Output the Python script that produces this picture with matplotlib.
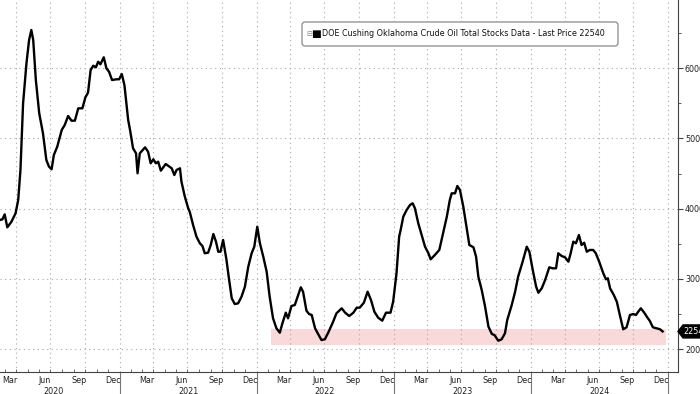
import matplotlib
matplotlib.use("Agg")
import matplotlib.pyplot as plt
import matplotlib.dates as mdates
import matplotlib.transforms as mtransforms
from matplotlib.patches import FancyBboxPatch, Polygon
from matplotlib.ticker import FixedLocator, NullFormatter
import pandas as pd

# ---------------- data (weekly Cushing stocks, barrels in thousands) ----------------
dates_2020 = ["02-17", "02-24", "03-01", "03-08", "03-19", "03-30", "04-06", "04-12", "04-19",
              "04-28", "05-05", "05-11", "05-16", "05-23", "06-01", "06-11", "06-20", "06-27",
              "07-04", "07-10", "07-19", "07-31", "08-08", "08-17", "08-26", "09-04", "09-13",
              "09-24", "10-02", "10-09", "10-16", "10-23", "10-30", "11-05", "11-11", "11-20",
              "11-27", "12-04", "12-12", "12-24", "12-31"]
stocks_2020 = [38390, 38490, 39200, 37350, 38150, 39350, 41240, 45510, 54990,
               60680, 64000, 65420, 64000, 58310, 53570, 50730, 46930, 45980,
               45610, 47640, 48820, 51200, 51910, 53190, 52520, 52520, 54280,
               54280, 55850, 56500, 59730, 60340, 60110, 60910, 60540, 61540,
               59970, 59490, 58310, 58410, 58410]

dates_2021 = ["01-07", "01-14", "01-24", "01-29", "02-06", "02-14", "02-18", "02-24", "03-10",
              "03-18", "03-25", "04-01", "04-08", "04-14", "04-21", "05-04", "05-20", "05-27",
              "06-02", "06-11", "06-15", "06-24", "07-03", "07-07", "07-16", "07-25", "08-03",
              "08-10", "08-16", "08-25", "09-01", "09-08", "09-15", "09-21", "09-27", "10-04",
              "10-13", "10-20", "10-27", "11-04", "11-13", "11-22", "12-01", "12-10", "12-19",
              "12-26"]
stocks_2021 = [59160, 57600, 52620, 51200, 48590, 47880, 45040, 47880, 48730,
               48110, 46460, 47030, 46460, 46690, 45410, 46360, 45750, 44790,
               45510, 45750, 43840, 41710, 40060, 39570, 37680, 36020, 35080,
               34690, 33660, 33740, 34840, 36400, 35310, 33880, 33880, 35550,
               32700, 29860, 27250, 26440, 26540, 27480, 28900, 31750, 33660,
               34590]

dates_2022 = ["01-03", "01-10", "01-19", "01-28", "02-05", "02-14", "02-23", "03-04", "03-11",
              "03-20", "03-26", "04-04", "04-13", "04-22", "04-29", "05-05", "05-14", "05-21",
              "05-28", "06-06", "06-14", "06-23", "07-02", "07-11", "07-23", "08-02", "08-16",
              "08-25", "09-05", "09-16", "09-25", "10-03", "10-14", "10-24", "11-02", "11-11",
              "11-21", "12-02", "12-12", "12-24", "12-31"]
stocks_2022 = [37440, 35080, 33170, 31040, 27480, 24410, 22990, 22360, 23700,
               25210, 24410, 26160, 26300, 27720, 28820, 28190, 25490, 25020,
               24880, 22990, 22180, 21320, 21420, 22360, 23780, 25120, 25830,
               25210, 24740, 25210, 25920, 25920, 26630, 28190, 27010, 25350,
               24500, 24070, 25210, 25210, 26770]

dates_2023 = ["01-09", "01-16", "01-20", "01-27", "02-05", "02-14", "02-21", "02-27", "03-08",
              "03-17", "03-26", "04-04", "04-10", "04-21", "05-03", "05-13", "05-23", "05-31",
              "06-05", "06-14", "06-20", "06-27", "07-06", "07-15", "07-22", "08-02", "08-09",
              "08-15", "08-24", "09-02", "09-11", "09-20", "09-27", "10-07", "10-16", "10-25",
              "10-31", "11-12", "11-21", "11-29", "12-11", "12-22", "12-29"]
stocks_2023 = [30810, 36020, 36970, 38860, 39820, 40530, 40770, 40060, 37920,
               36260, 34590, 33660, 32800, 33410, 34130, 36500, 38860, 41240,
               42190, 42190, 43230, 42660, 40280, 37210, 34840, 34510, 33170,
               30330, 28440, 26060, 23210, 22180, 22030, 21220, 21420, 22280,
               24170, 26300, 28190, 30330, 32460, 34590, 33880]

dates_2024 = ["01-07", "01-16", "01-22", "01-31", "02-09", "02-20", "02-29", "03-09", "03-15",
              "03-24", "04-02", "04-11", "04-17", "04-24", "05-01", "05-09", "05-16", "05-23",
              "05-30", "06-07", "06-16", "06-23", "07-02", "07-13", "07-20", "07-25", "07-31",
              "08-10", "08-18", "08-26", "09-04", "09-13", "09-22", "10-01", "10-08", "10-14",
              "10-21", "10-30", "11-07", "11-14", "11-22", "12-02", "12-11", "12-18"]
stocks_2024 = [31280, 28900, 28050, 28680, 29860, 31660, 31520, 31520, 33660,
               33270, 33090, 32460, 33660, 35310, 35080, 36260, 34840, 35160,
               33880, 34130, 34130, 33660, 32460, 30810, 29960, 30100, 28680,
               27720, 26770, 24880, 22850, 23130, 24880, 25020, 24880, 25350,
               25830, 25210, 24550, 24030, 23130, 22990, 22850, 22540]

series_name = "DOE Cushing Oklahoma Crude Oil Total Stocks Data"
band_start, band_end = "2022-02-09", "2024-12-28"
band_low, band_high = 20600, 22850
y_ticks = [20000, 30000, 40000, 50000, 60000]
y_minor = [25000, 35000, 45000, 55000, 65000]
month_labels = {3: "Mar", 6: "Jun", 9: "Sep", 12: "Dec"}
label_years = [2020, 2021, 2022, 2023, 2024]
x_start, x_end = "2020-02-17 12:00", "2025-01-28"
y_lo, y_hi = 16770, 69690

# ---------------- assemble ----------------
years = {2020: (dates_2020, stocks_2020), 2021: (dates_2021, stocks_2021),
         2022: (dates_2022, stocks_2022), 2023: (dates_2023, stocks_2023),
         2024: (dates_2024, stocks_2024)}
dates, stocks = [], []
for yr, (ds, vs) in years.items():
    dates += [pd.Timestamp(f"{yr}-{d}") for d in ds]
    stocks += vs
last = stocks[-1]

plt.rcParams["font.family"] = ["DejaVu Sans"]
W, H = 700, 394
fig = plt.figure(figsize=(W / 100, H / 100), dpi=100)
fig.patch.set_facecolor("white")
ax = fig.add_axes([0, 22 / H, 678 / W, 372 / H])

xmin, xmax = pd.Timestamp(x_start), pd.Timestamp(x_end)
ax.set_xlim(xmin, xmax)
ax.set_ylim(y_lo, y_hi)

grid_kw = dict(color="#a8a8a8", lw=0.8, linestyle=(0, (1, 3.2)), zorder=1)
for q in pd.date_range("2020-01-01", "2025-01-01", freq="QS"):
    if xmin < q < xmax:
        ax.axvline(q, **grid_kw)
for v in y_ticks:
    ax.axhline(v, **grid_kw)

# shaded band
ax.fill_between([pd.Timestamp(band_start), pd.Timestamp(band_end)], band_low, band_high,
                color="#f9d9d9", lw=0, zorder=0.5)

ax.plot(dates, stocks, color="black", lw=1.7, zorder=3, solid_joinstyle="round")

# spines
for s in ["left", "top"]:
    ax.spines[s].set_visible(False)
for s in ["right", "bottom"]:
    ax.spines[s].set_color("#444444")
    ax.spines[s].set_linewidth(0.8)

# x axis: year separators (major) and monthly ticks (minor)
ax.xaxis.set_major_locator(mdates.YearLocator())
ax.xaxis.set_major_formatter(NullFormatter())
ax.xaxis.set_minor_locator(mdates.MonthLocator())
ax.xaxis.set_minor_formatter(NullFormatter())
ax.tick_params(axis="x", which="major", direction="out", length=17, width=0.8, color="#777777")
ax.tick_params(axis="x", which="minor", direction="in", length=2, width=0.6, color="#555555")

xt = ax.get_xaxis_transform()
for yr in label_years:
    for m, lab in month_labels.items():
        d = pd.Timestamp(f"{yr}-{m:02d}-15")
        if xmin <= d <= xmax:
            ax.text(d, -8.5 / 372, lab, transform=xt, ha="center", va="center",
                    fontsize=5.8, color="#222222")
    a = max(pd.Timestamp(f"{yr}-01-01"), xmin)
    b = min(pd.Timestamp(f"{yr + 1}-01-01"), xmax)
    mid = a + (b - a) / 2
    if yr == 2020:
        mid = pd.Timestamp(f"{yr}-07-10")
    ax.text(mid, -19 / 372, str(yr), transform=xt, ha="center", va="center",
            fontsize=5.8, color="#222222")

# y axis on right (labels run off the right edge, as in the reference)
ax.yaxis.tick_right()
ax.yaxis.set_major_locator(FixedLocator(y_ticks))
ax.yaxis.set_minor_locator(FixedLocator(y_minor))
ax.set_yticklabels([str(v) for v in y_ticks])
ax.tick_params(axis="y", which="major", direction="out", length=3.5, width=0.8,
               color="#444444", labelsize=5.8, labelcolor="#222222", pad=1.5)
ax.tick_params(axis="y", which="minor", direction="out", length=2, width=0.6, color="#444444")

# last price tag
tag_tr = mtransforms.Affine2D() + mtransforms.ScaledTranslation(1.0, last, ax.get_yaxis_transform())
tag = Polygon([(0, 0), (5, 6.5), (40, 6.5), (40, -6.5), (5, -6.5)], closed=True,
              transform=tag_tr, facecolor="black", edgecolor="black", clip_on=False, zorder=5)
ax.add_patch(tag)
ax.annotate(str(last), xy=(1.0, last), xycoords=ax.get_yaxis_transform(),
            xytext=(5, 0), textcoords="offset pixels", ha="left", va="center",
            color="white", fontsize=5.8, zorder=6, annotation_clip=False)

# legend box
idt = mtransforms.IdentityTransform()
box = FancyBboxPatch((302, H - 46), 316, 24, boxstyle="round,pad=0,rounding_size=3",
                     transform=idt, facecolor="white", edgecolor="#8a8a8a", lw=0.9, zorder=10)
fig.add_artist(box)
cy = H - 34
fig.text(309, cy, "\u229f", transform=idt, ha="center", va="center", fontsize=5,
         color="#888888", zorder=11)
fig.text(316, cy, "\u25a0", transform=idt, ha="center", va="center", fontsize=7.5,
         color="black", zorder=11)
fig.text(322, cy, f"{series_name} - Last Price {last}", transform=idt, ha="left",
         va="center", fontsize=5.8, color="#111111", zorder=11)

fig.savefig("out.png", dpi=100, facecolor="white")
